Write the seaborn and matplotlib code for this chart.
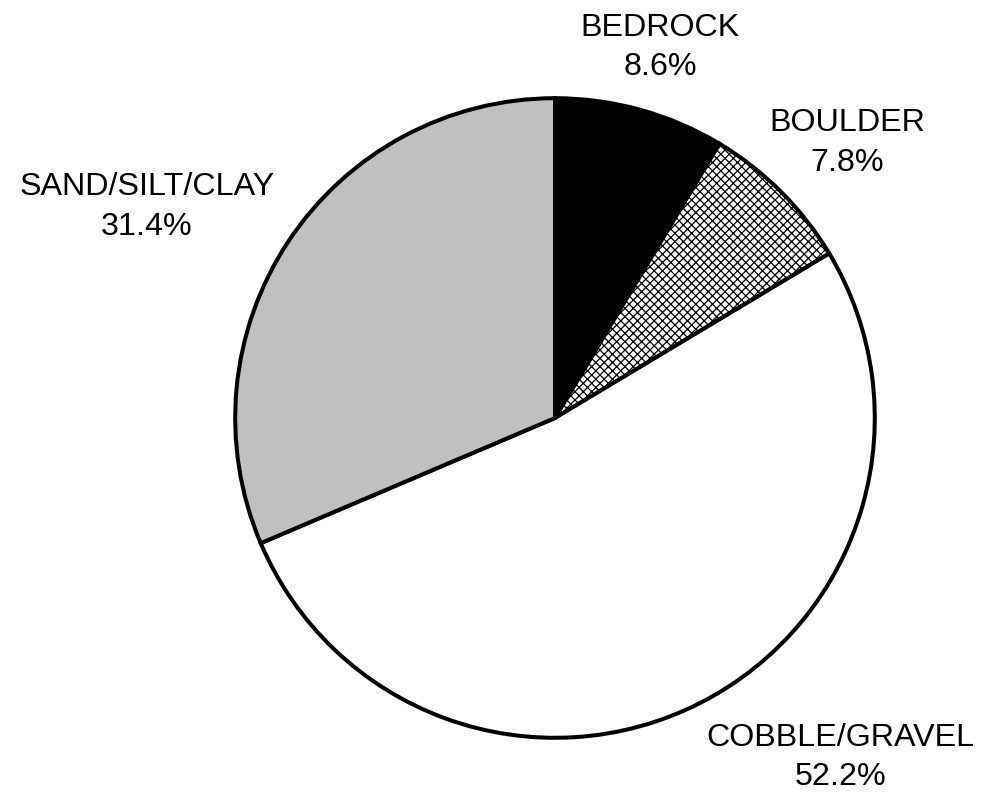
import matplotlib
matplotlib.use("Agg")
import matplotlib.pyplot as plt
import seaborn as sns

# -----------------------------
# Data
# -----------------------------
categories = ["BEDROCK", "BOULDER", "COBBLE/GRAVEL", "SAND/SILT/CLAY"]
percents = [8.6, 7.8, 52.2, 31.4]
colors = ["#000000", "#FFFFFF", "#FFFFFF", "#C0C0C0"]
hatches = ["", "xxxx", "", ""]
# label anchor points (data coords, pie radius = 1)
label_pos = [(0.328, 1.158), (0.915, 0.86), (0.893, -1.062), (-1.276, 0.66)]

sns.set_theme(style="white")
plt.rcParams["font.family"] = ["Liberation Sans", "DejaVu Sans"]
plt.rcParams["hatch.linewidth"] = 0.9

fig = plt.figure(figsize=(9.84, 7.92), dpi=100)
ax = fig.add_axes([232 / 984, 51 / 792, 646 / 984, 646 / 792])

wedges, _ = ax.pie(
    percents,
    colors=colors,
    startangle=90,
    counterclock=False,
    wedgeprops={"edgecolor": "black", "linewidth": 2.9},
)
for w, h in zip(wedges, hatches):
    if h:
        w.set_hatch(h)

for name, pct, (x, y) in zip(categories, percents, label_pos):
    ax.text(x, y, f"{name}\n{pct:.1f}%", ha="center", va="center",
            fontsize=23.2, linespacing=1.42, color="black")

ax.set_xlim(-1.01, 1.01)
ax.set_ylim(-1.01, 1.01)
ax.set_aspect("equal")
ax.axis("off")

fig.savefig("out.png", dpi=100)
